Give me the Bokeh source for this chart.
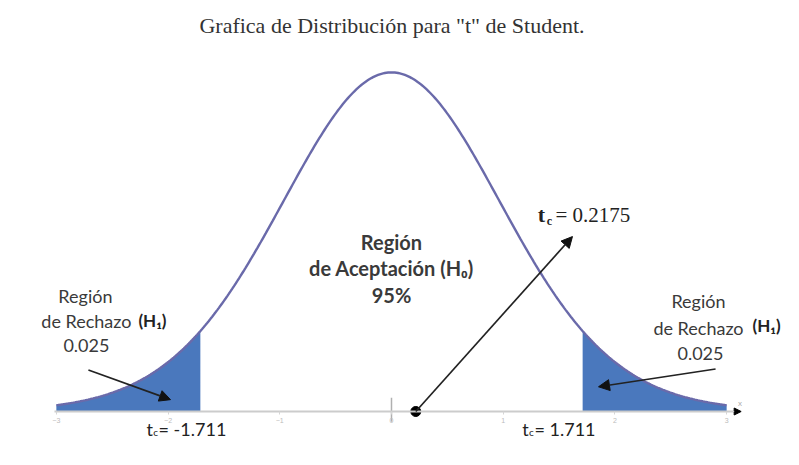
import math
import numpy as np
from bokeh.plotting import figure
from bokeh.models import Range1d, Label, Arrow, NormalHead, FixedTicker
from bokeh.embed import file_html
from bokeh.resources import INLINE

# ---- data ----
title_text = 'Grafica de Distribución para "t" de Student.'
df_t = 24                      # degrees of freedom (t_0.05,24 = 1.711)
t_crit = 1.711                 # critical value
t_calc = 0.2175                # calculated statistic
x_lo, x_hi = -3.0, 3.0
tick_values = [-3, -2, -1, 0, 1, 2, 3]
alpha_label = "0.025"
accept_label = "95%"

def t_pdf(x, nu):
    c = math.gamma((nu + 1) / 2) / (math.sqrt(nu * math.pi) * math.gamma(nu / 2))
    return c * (1 + x ** 2 / nu) ** (-(nu + 1) / 2)

xs = np.linspace(x_lo, x_hi, 401)
ys = t_pdf(xs, df_t)
xl = np.linspace(x_lo, -t_crit, 120)
xr = np.linspace(t_crit, x_hi, 120)

p = figure(width=783, height=449, output_backend="svg", toolbar_location=None,
           x_range=Range1d(-3.500, 3.509), y_range=Range1d(-0.03027, 0.42963),
           min_border_left=0, min_border_right=0, min_border_top=42, min_border_bottom=12,
           title=title_text)
p.outline_line_color = None
p.grid.visible = False
p.yaxis.visible = False
p.background_fill_color = "white"

p.title.align = "center"
p.title.text_font = "Liberation Serif"
p.title.text_font_style = "normal"
p.title.text_font_size = "22px"
p.title.text_color = "#333333"

ax = p.xaxis[0]
ax.fixed_location = 0
ax.bounds = (x_lo - 0.02, x_hi + 0.1)
ax.ticker = FixedTicker(ticks=tick_values)
ax.axis_line_color = "#cccccc"
ax.axis_line_width = 2
ax.major_tick_line_color = "#d5d5d5"
ax.major_tick_out = 3
ax.major_tick_in = 0
ax.minor_tick_line_color = None
ax.major_label_text_font_size = "7px"
ax.major_label_text_color = "#bbbbbb"
ax.major_label_standoff = 3

# shaded rejection regions
p.varea(x=xl, y1=0, y2=t_pdf(xl, df_t), fill_color="#4a78bd")
p.varea(x=xr, y1=0, y2=t_pdf(xr, df_t), fill_color="#4a78bd")
# curve
p.line(xs, ys, line_color="#6a6aaa", line_width=2.4)

# zero marker
p.segment(x0=[tick_values[3]], y0=[-0.012], x1=[tick_values[3]], y1=[0.016],
          line_color="#b0b0b0", line_width=1.5)

# axis end arrow
p.add_layout(Arrow(end=NormalHead(size=7, fill_color="black", line_color="black"),
                   x_start=x_hi, y_start=0, x_end=x_hi + 0.13, y_end=0,
                   line_color="#cccccc", line_width=1))
p.add_layout(Label(x=x_hi + 0.12, y=0.009, text="x", text_font_size="8px",
                   text_color="#aaaaaa", text_align="center", text_baseline="middle"))

# arrows
head = lambda: NormalHead(size=11, fill_color="#111111", line_color="#111111")
p.add_layout(Arrow(end=head(), x_start=-2.713, y_start=0.0483, x_end=-1.978, y_end=0.0138,
                   line_color="#222222", line_width=1.7))
p.add_layout(Arrow(end=head(), x_start=2.901, y_start=0.0495, x_end=1.853, y_end=0.0288,
                   line_color="#222222", line_width=1.7))
p.add_layout(Arrow(end=head(), x_start=t_calc, y_start=0, x_end=1.620, y_end=0.2037,
                   line_color="#222222", line_width=1.7))
p.scatter(x=[t_calc], y=[0], size=10, color="black")

sans = "Lato"
serif = "Liberation Serif"

def lab(x, y, text, size="18px", font=sans, style="normal", align="center", color="#3a3a3a"):
    p.add_layout(Label(x=x, y=y, text=text, text_font=font, text_font_size=size,
                       text_font_style=style, text_align=align, text_baseline="middle",
                       text_color=color))

# acceptance region
lab(0.0, 0.1979, "Región", size="20px", style="bold")
lab(0.0, 0.1668, "de Aceptación (H₀)", size="20px", style="bold")
lab(0.0, 0.1358, accept_label, size="20px", style="bold")

# left rejection
lab(-2.740, 0.1346, "Región")
lab(-2.731, 0.1059, "de Rechazo")
lab(-2.731, 0.0771, alpha_label)
lab(-2.140, 0.1059, "(H₁)", size="17px", style="bold", color="#222222")

# right rejection
lab(2.748, 0.1289, "Región")
lab(2.748, 0.0978, "de Rechazo")
lab(2.766, 0.0679, alpha_label)
lab(3.357, 0.1001, "(H₁)", size="17px", style="bold", color="#222222")

# t calc label
lab(1.343, 0.2290, "t", font=serif, style="bold", size="22px", color="#222222")
lab(1.414, 0.2215, "c", font=serif, style="bold", size="12px", color="#222222")
lab(1.468, 0.2290, "= " + str(t_calc), font=serif, size="21px", align="left", color="#222222")

# critical values
lab(-2.165, -0.0200, "t", size="18px", color="#222222")
lab(-2.112, -0.0240, "c", size="10px", color="#222222")
lab(-2.085, -0.0200, "= -" + str(t_crit), size="18px", align="left", color="#222222")
lab(1.200, -0.0200, "t", size="18px", color="#222222")
lab(1.253, -0.0240, "c", size="10px", color="#222222")
lab(1.280, -0.0200, "= " + str(t_crit), size="18px", align="left", color="#222222")

open("out.html", "w").write(file_html(p, INLINE))
